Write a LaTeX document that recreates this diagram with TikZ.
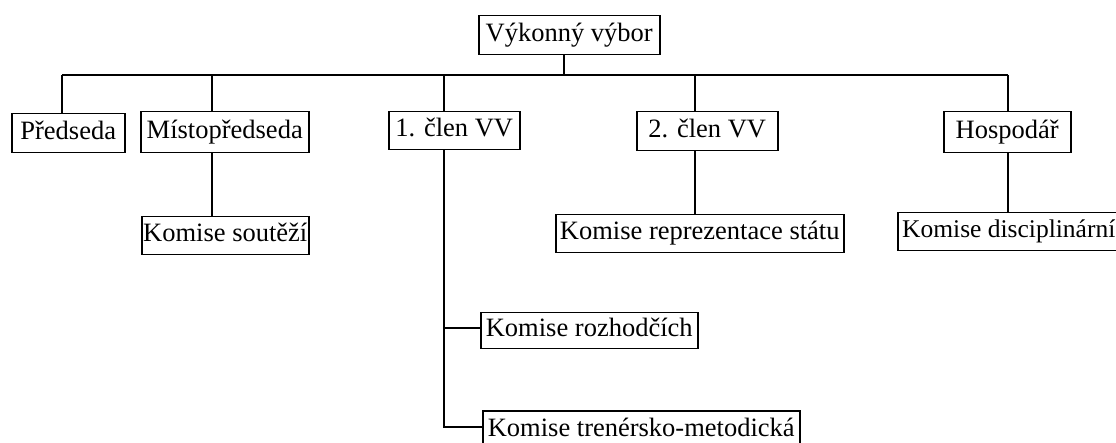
\documentclass[tikz,border=0pt]{standalone}
\usepackage{fontspec}
\setmainfont{Liberation Serif}
\usetikzlibrary{calc}
\tikzstyle{block} = [rectangle, draw, line width=1.5pt, anchor=north west,
    inner sep=0pt, text height=18pt, text depth=6pt,
    font=\fontsize{26.5}{30}\selectfont]
\tikzstyle{line} = [draw, line width=1.6pt]

\begin{document}
\begin{tikzpicture}[x=1pt, y=-1pt]
  \useasboundingbox (0,0) rectangle (1116,443);
  \clip (0,0) rectangle (1116,443);
  % Place nodes
  \node [block, minimum width=181pt, minimum height=39pt] (vv) at (478,15) {Výkonný výbor};

  \node [block, minimum width=113pt, minimum height=39pt] (predseda) at (11,113) {Předseda};
  \node [block, minimum width=168pt, minimum height=41pt] (mistop) at (140,111) {Místopředseda};
  \node [block, minimum width=131pt, minimum height=38pt] (clen1) at (388,111) {1. člen VV};
  \node [block, minimum width=141pt, minimum height=39pt] (clen2) at (636,111) {2. člen VV};
  \node [block, minimum width=127pt, minimum height=41pt] (hosp) at (943,111) {Hospodář};

  \node [block, minimum width=167pt, minimum height=38pt] (soutez) at (141,216) {Komise soutěží};
  \node [block, minimum width=288pt, minimum height=38pt] (repre) at (555,214) {Komise reprezentace státu};
  \node [block, minimum width=222pt, minimum height=38pt,
    font=\fontsize{25.5}{30}\selectfont] (disc) at (897,212) {Komise disciplinární};
  \node [block, minimum width=217pt, minimum height=36pt] (rozh) at (480,312) {Komise rozhodčích};
  \node [block, minimum width=317pt, minimum height=40pt] (trener) at (482,410) {Komise trenérsko-metodická};

  % branch points
  \coordinate (top) at (564,75);
  \coordinate (b1) at (62,75);
  \coordinate (b2) at (212,75);
  \coordinate (b3) at (444,75);
  \coordinate (b4) at (695,75);
  \coordinate (b5) at (1008,75);
  \coordinate (r1) at (444,328);
  \coordinate (r2) at (444,427);

  \path [line] (vv.south -| top) -- (top);
  \path [line] (b1) -- (b5);
  \path [line] (b1) -- (b1 |- predseda.north);
  \path [line] (b2) -- (b2 |- mistop.north);
  \path [line] (b3) -- (b3 |- clen1.north);
  \path [line] (b4) -- (b4 |- clen2.north);
  \path [line] (b5) -- (b5 |- hosp.north);

  \path [line] (mistop.south -| b2) -- (b2 |- soutez.north);
  \path [line] (clen2.south -| b4) -- (b4 |- repre.north);
  \path [line] (hosp.south -| b5) -- (b5 |- disc.north);

  \path [line] (clen1.south -| b3) -- (r2) -- (r2 -| trener.west);
  \path [line] (r1) -- (r1 -| rozh.west);
\end{tikzpicture}
\end{document}
